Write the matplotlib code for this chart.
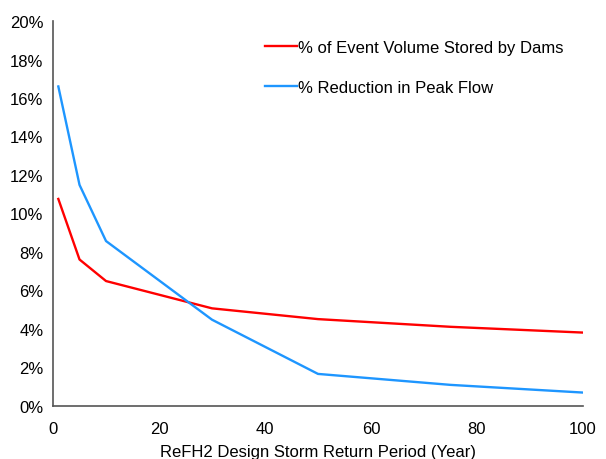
import matplotlib.pyplot as plt
from matplotlib.ticker import PercentFormatter

plt.rcParams['font.family'] = ['Liberation Sans', 'DejaVu Sans']

return_period = [1, 5, 10, 30, 50, 75, 100]
volume_stored = [10.75, 7.6, 6.48, 5.06, 4.5, 4.1, 3.8]
peak_reduction = [16.6, 11.48, 8.56, 4.47, 1.65, 1.08, 0.68]

fig = plt.figure(figsize=(6.06, 4.6), dpi=100)
ax = fig.add_axes([0.0875, 0.116, 0.8745, 0.836])

ax.plot(return_period, volume_stored, color='#ff0000', lw=1.7,
        label='% of Event Volume Stored by Dams')
ax.plot(return_period, peak_reduction, color='#1e96ff', lw=1.7,
        label='% Reduction in Peak Flow')

ax.set_xlim(0, 100)
ax.set_ylim(0, 20)
ax.set_xticks([0, 20, 40, 60, 80, 100])
ax.set_yticks(range(0, 21, 2))
ax.yaxis.set_major_formatter(PercentFormatter(decimals=0))
ax.tick_params(length=0, labelsize=12)
ax.tick_params(axis='y', pad=7)
ax.tick_params(axis='x', pad=11)
for s in ['top', 'right']:
    ax.spines[s].set_visible(False)
for s in ['left', 'bottom']:
    ax.spines[s].set_color('#555555')
    ax.spines[s].set_linewidth(1.2)

ax.set_xlabel('ReFH2 Design Storm Return Period (Year)', fontsize=12, labelpad=6)

ax.legend(loc='upper left', bbox_to_anchor=(0.4, 0.95), frameon=False,
          fontsize=12, handlelength=1.9, handletextpad=0.1, labelspacing=1.5,
          borderaxespad=0, borderpad=0)

fig.savefig('out.png', dpi=100)
